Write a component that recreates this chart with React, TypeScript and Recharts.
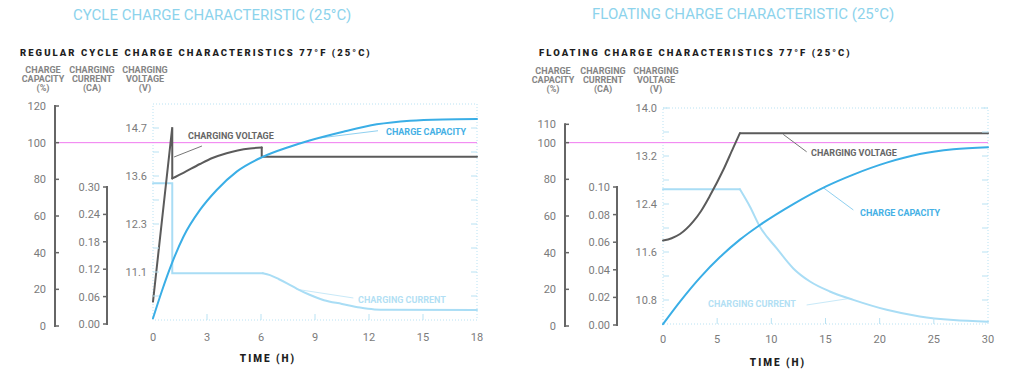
import { LineChart, Line, XAxis, YAxis, ReferenceLine, ReferenceArea } from 'recharts';

type Pt = [number, number];
// a series is drawn as pieces: straight runs (steps, jumps) and smooth curves
type Piece = { curve: 'linear' | 'monotone'; pts: Pt[] };

// ---- cycle charge (left panel) ----
const cycleHourTicks = [0, 3, 6, 9, 12, 15, 18];
const cycleCapacityTicks = [0, 20, 40, 60, 80, 100, 120];
const cycleCurrentTicks = [0, 0.06, 0.12, 0.18, 0.24, 0.3];
const cycleVoltageTicks = [10.5, 11.1, 11.7, 12.3, 12.9, 13.5, 14.1, 14.7];
const cycleVoltageLabels: Record<string, string> = { '11.1': '11.1', '12.3': '12.3', '13.5': '13.6', '14.7': '14.7' };

const cycleVoltage: Piece[] = [
  { curve: 'linear', pts: [[0, 10.36], [1.07, 14.72], [1.07, 13.44]] },
  { curve: 'monotone', pts: [[1.07, 13.44], [1.69, 13.58], [2.61, 13.8], [3.3, 13.95], [4.09, 14.07], [4.7, 14.14], [5.39, 14.19], [6.04, 14.21]] },
  { curve: 'linear', pts: [[6.04, 14.21], [6.04, 13.98], [18, 13.98]] },
];
const cycleCapacity: Piece[] = [
  { curve: 'monotone', pts: [[0, 4.2], [0.48, 18.7], [1.07, 34.7], [1.69, 48.7], [2.61, 63.3], [3.54, 74.2], [4.65, 84.2],
    [6.04, 92], [7.6, 97.8], [8.7, 101.2], [10.57, 106], [12.43, 110], [14.28, 112], [16.1, 112.7], [18, 112.9]] },
];
const cycleCurrent: Piece[] = [
  { curve: 'linear', pts: [[0, 0.308], [1.07, 0.308], [1.07, 0.111], [6.1, 0.111]] },
  { curve: 'monotone', pts: [[6.1, 0.111], [6.5, 0.107], [7, 0.098], [7.5, 0.088], [8, 0.077], [8.7, 0.064], [9.5, 0.052],
    [10.5, 0.044], [11.5, 0.036], [12.3, 0.032], [13, 0.031], [18, 0.0307]] },
];

// ---- floating charge (right panel) ----
const floatHourTicks = [0, 5, 10, 15, 20, 25, 30];
const floatCapacityTicks = [0, 20, 40, 60, 80, 100, 110];
const floatCurrentTicks = [0, 0.02, 0.04, 0.06, 0.08, 0.1];
const floatVoltageTicks = [10.8, 11.2, 11.6, 12.0, 12.4, 12.8, 13.2, 13.6, 14.0];
const floatVoltageLabels: Record<string, string> = { '10.8': '10.8', '11.6': '11.6', '12.4': '12.4', '13.2': '13.2', '14': '14.0' };

const floatVoltage: Piece[] = [
  { curve: 'monotone', pts: [[0, 11.79], [0.8, 11.83], [1.57, 11.9], [2.8, 12.11], [3.5, 12.28], [4.34, 12.54],
    [5.57, 12.97], [6.49, 13.34], [7.1, 13.58]] },
  { curve: 'linear', pts: [[7.1, 13.58], [30, 13.58]] },
];
const floatCapacity: Piece[] = [
  { curve: 'monotone', pts: [[0, 1], [1.57, 13.3], [3.42, 26.4], [5.26, 37.6], [7.1, 47.1], [8.95, 55.1], [12.03, 66.5],
    [15.1, 76.3], [17.57, 82.6], [20.65, 89.1], [23.7, 93.8], [26.8, 96.4], [30, 97.5]] },
];
const floatCurrent: Piece[] = [
  { curve: 'linear', pts: [[0, 0.0983], [7.1, 0.0983]] },
  { curve: 'monotone', pts: [[7.1, 0.0983], [8.03, 0.0857], [8.95, 0.0712], [10.5, 0.0555], [12.03, 0.041],
    [13.57, 0.0315], [15.4, 0.0243], [17.57, 0.0182], [20.65, 0.011], [23.7, 0.0062], [26.8, 0.0036], [30, 0.0024]] },
];

const DARK = '#5b5b5b';
const BLUE = '#3aaee6';
const LIGHT = '#a9ddf5';
const MAGENTA = '#f07af0';
const GRID = '#b9e2f3';
const TICK_TEXT = '#7b7b7b';
const FONT = 'Roboto, "Open Sans", sans-serif';

const toRows = (pts: Pt[]) => pts.map(([t, v]) => ({ t, v }));

interface PanelProps {
  maxHour: number;
  hourTicks: number[];
  plotTop: number;
  marginRight: number;
  capDomain: [number, number];
  capTicks: number[];
  capPx: number;
  curDomain: [number, number];
  curTicks: number[];
  curPx: number;
  voltDomain: [number, number];
  voltBox: [number, number];
  voltTicks: number[];
  voltLabels: Record<string, string>;
  capX: number;
  curX: number;
  plotLeft: number;
  plotRight: number;
  boxBottom: number;
  hourLabelY: number;
  voltage: Piece[];
  capacity: Piece[];
  current: Piece[];
  magentaFrom: number;
  leaders: { axis: string; from: Pt; to: Pt; color: string }[];
}

function Panel(p: PanelProps) {
  const capTick = (props: any) => {
    const { y, payload } = props;
    const i = p.capTicks.indexOf(payload.value);
    const seg = i > 0 ? (p.capTicks[i] - p.capTicks[i - 1]) * p.capPx : 0;
    return (
      <g>
        {seg > 0 && <line x1={p.capX} x2={p.capX} y1={y - 1} y2={y + seg + 1} stroke="#666" strokeWidth={2} />}
        <line x1={p.capX} x2={p.capX + 4} y1={y} y2={y} stroke="#666" strokeWidth={1.5} />
        <text x={p.capX - 9} y={y} dy={4} textAnchor="end" fontSize={11} fill={TICK_TEXT} fontFamily={FONT}>
          {payload.value}
        </text>
      </g>
    );
  };
  const curTick = (props: any) => {
    const { y, payload } = props;
    const i = p.curTicks.indexOf(payload.value);
    const seg = i > 0 ? (p.curTicks[i] - p.curTicks[i - 1]) * p.curPx : 0;
    return (
      <g>
        {seg > 0 && <line x1={p.curX} x2={p.curX} y1={y - 1} y2={y + seg + 1} stroke="#666" strokeWidth={2} />}
        <line x1={p.curX - 4} x2={p.curX} y1={y} y2={y} stroke="#666" strokeWidth={1.5} />
        <text x={p.curX - 7} y={y} dy={4} textAnchor="end" fontSize={11} fill={TICK_TEXT} fontFamily={FONT}>
          {Number(payload.value).toFixed(2)}
        </text>
      </g>
    );
  };
  const voltTick = (props: any) => {
    const { y, payload } = props;
    const label = p.voltLabels[String(payload.value)];
    return (
      <g>
        <line x1={p.plotLeft} x2={p.plotLeft + 6} y1={y} y2={y} stroke={GRID} strokeWidth={1} />
        <line x1={p.plotRight - 6} x2={p.plotRight} y1={y} y2={y} stroke={GRID} strokeWidth={1} />
        {label && (
          <text x={p.plotLeft - 6} y={y} dy={4} textAnchor="end" fontSize={11} fill={TICK_TEXT} fontFamily={FONT}>
            {label}
          </text>
        )}
      </g>
    );
  };
  const hourTick = (props: any) => {
    const { x, payload } = props;
    const inner = payload.value > 0 && payload.value < p.maxHour;
    return (
      <g>
        {inner && <line x1={x} x2={x} y1={p.boxBottom - 6} y2={p.boxBottom} stroke={GRID} strokeWidth={1} />}
        <text x={x} y={p.hourLabelY} dy={4} textAnchor="middle" fontSize={11} fill={TICK_TEXT} fontFamily={FONT}>
          {payload.value}
        </text>
      </g>
    );
  };

  const pieces = (series: Piece[], axis: string, color: string, name: string) =>
    series.map((pc, i) => (
      <Line key={`${name}${i}`} yAxisId={axis} data={toRows(pc.pts)} dataKey="v" type={pc.curve} stroke={color}
        strokeWidth={2} dot={false} isAnimationActive={false} strokeLinecap="round" />
    ));

  return (
    <LineChart width={512} height={381} margin={{ top: p.plotTop, right: p.marginRight, bottom: 25, left: 0 }}>
      <XAxis dataKey="t" type="number" domain={[0, p.maxHour]} ticks={p.hourTicks} interval={0}
        height={30} axisLine={false} tickLine={false} tickSize={0} tick={hourTick} allowDuplicatedCategory={false} />
      <YAxis yAxisId="volt" type="number" domain={p.voltDomain} ticks={p.voltTicks} interval={0} width={46}
        axisLine={false} tickLine={false} tickSize={0} tick={voltTick} allowDataOverflow />
      <YAxis yAxisId="cur" type="number" domain={p.curDomain} ticks={p.curTicks} interval={0}
        width={p.curX - p.capX} axisLine={false} tickLine={false} tickSize={0} tick={curTick} allowDataOverflow />
      <YAxis yAxisId="cap" type="number" domain={p.capDomain} ticks={p.capTicks} interval={0}
        width={p.capX} axisLine={false} tickLine={false} tickSize={0} tick={capTick} allowDataOverflow />

      <ReferenceArea yAxisId="volt" x1={0} x2={p.maxHour} y1={p.voltBox[0]} y2={p.voltBox[1]}
        fill="none" stroke={GRID} strokeDasharray="1 2" ifOverflow="visible" />
      <ReferenceLine yAxisId="cap" segment={[{ x: p.magentaFrom, y: 100 }, { x: p.maxHour, y: 100 }]}
        stroke={MAGENTA} strokeWidth={1} ifOverflow="visible" />
      {p.leaders.map((l, i) => (
        <ReferenceLine key={i} yAxisId={l.axis} segment={[{ x: l.from[0], y: l.from[1] }, { x: l.to[0], y: l.to[1] }]}
          stroke={l.color} strokeWidth={1} ifOverflow="visible" />
      ))}

      {pieces(p.current, 'cur', LIGHT, 'cur')}
      {pieces(p.voltage, 'volt', DARK, 'volt')}
      {pieces(p.capacity, 'cap', BLUE, 'cap')}
    </LineChart>
  );
}

function Txt({ x, y, children, color, size, weight = 700, spacing = 0, align = 'left', w = 0 }: any) {
  const style: any = {
    position: 'absolute', top: y - size * 0.6, lineHeight: `${size * 1.2}px`, fontSize: size, fontWeight: weight,
    color, letterSpacing: spacing, whiteSpace: 'nowrap', fontFamily: FONT,
  };
  if (align === 'center') {
    style.left = x - w / 2;
    style.width = w;
    style.textAlign = 'center';
  } else {
    style.left = x;
  }
  return <div style={style}>{children}</div>;
}

function AxisHeader({ x, y, lines }: { x: number; y: number; lines: string[] }) {
  return (
    <>
      {lines.map((s, i) => (
        <Txt key={i} x={x} y={y + i * 9} size={9} weight={700} color="#858585" align="center" w={70}>{s}</Txt>
      ))}
    </>
  );
}

export default function App() {
  return (
    <div style={{ position: 'absolute', left: 0, top: 0, width: 1024, height: 381, background: '#fff', overflow: 'hidden' }}>
      <div style={{ position: 'absolute', left: 0, top: 0 }}>
        <Panel
          maxHour={18} hourTicks={cycleHourTicks} plotTop={104} marginRight={35}
          capDomain={[0, 121.09]} capTicks={cycleCapacityTicks} capPx={1.8333}
          curDomain={[-0.00438, 0.48175]} curTicks={cycleCurrentTicks} curPx={456.67}
          voltDomain={[9.75, 15.3]} voltBox={[9.9, 15.3]} voltTicks={cycleVoltageTicks} voltLabels={cycleVoltageLabels}
          capX={55} curX={107} plotLeft={153} plotRight={477} boxBottom={320} hourLabelY={337}
          voltage={cycleVoltage} capacity={cycleCapacity} current={cycleCurrent} magentaFrom={-5.44}
          leaders={[
            { axis: 'volt', from: [1.17, 13.975], to: [2.72, 14.25], color: '#777' },
            { axis: 'cap', from: [9.3, 102.6], to: [12.5, 106.5], color: '#8fd0f0' },
            { axis: 'cur', from: [7.98, 0.076], to: [11.13, 0.057], color: '#c8e9f8' },
          ]}
        />
      </div>
      <div style={{ position: 'absolute', left: 512, top: 0 }}>
        <Panel
          maxHour={30} hourTicks={floatHourTicks} plotTop={108} marginRight={36}
          capDomain={[0, 118.9]} capTicks={floatCapacityTicks} capPx={1.8333}
          curDomain={[-0.000725, 0.15725]} curTicks={floatCurrentTicks} curPx={1380}
          voltDomain={[10.3667, 14.0]} voltBox={[10.4, 14.0]} voltTicks={floatVoltageTicks} voltLabels={floatVoltageLabels}
          capX={53} curX={105} plotLeft={151} plotRight={476} boxBottom={324} hourLabelY={339}
          voltage={floatVoltage} capacity={floatCapacity} current={floatCurrent} magentaFrom={-9.05}
          leaders={[
            { axis: 'volt', from: [11.1, 13.56], to: [13.26, 13.27], color: '#777' },
            { axis: 'cap', from: [14.8, 75.4], to: [17.57, 63.3], color: '#8fd0f0' },
            { axis: 'cur', from: [13.26, 0.0145], to: [17.26, 0.0193], color: '#c8e9f8' },
          ]}
        />
      </div>

      <Txt x={73} y={15} size={15} weight={400} color="#8dd3ec">CYCLE CHARGE CHARACTERISTIC (25°C)</Txt>
      <Txt x={592} y={14} size={15} weight={400} color="#8dd3ec">FLOATING CHARGE CHARACTERISTIC (25°C)</Txt>

      <Txt x={20} y={53} size={9.5} weight={900} color="#1e1e1e" spacing={2.05}>REGULAR CYCLE CHARGE CHARACTERISTICS 77°F (25°C)</Txt>
      <Txt x={539} y={53} size={9.5} weight={900} color="#1e1e1e" spacing={2.05}>FLOATING CHARGE CHARACTERISTICS 77°F (25°C)</Txt>

      <AxisHeader x={43} y={70} lines={['CHARGE', 'CAPACITY', '(%)']} />
      <AxisHeader x={92} y={70} lines={['CHARGING', 'CURRENT', '(CA)']} />
      <AxisHeader x={145} y={70} lines={['CHARGING', 'VOLTAGE', '(V)']} />
      <AxisHeader x={553} y={71} lines={['CHARGE', 'CAPACITY', '(%)']} />
      <AxisHeader x={603} y={71} lines={['CHARGING', 'CURRENT', '(CA)']} />
      <AxisHeader x={656} y={71} lines={['CHARGING', 'VOLTAGE', '(V)']} />

      <Txt x={268} y={359} size={10} weight={900} color="#1e1e1e" spacing={2} align="center" w={100}>TIME (H)</Txt>
      <Txt x={778} y={363} size={10} weight={900} color="#1e1e1e" spacing={2} align="center" w={100}>TIME (H)</Txt>

      <Txt x={188} y={136} size={9} color="#666">CHARGING VOLTAGE</Txt>
      <Txt x={386} y={132} size={9} color="#45b0e5">CHARGE CAPACITY</Txt>
      <Txt x={358} y={300} size={9} color="#b3dff4">CHARGING CURRENT</Txt>
      <Txt x={811} y={153} size={9} color="#666">CHARGING VOLTAGE</Txt>
      <Txt x={860} y={213} size={9} color="#45b0e5">CHARGE CAPACITY</Txt>
      <Txt x={708} y={304} size={9} color="#b3dff4">CHARGING CURRENT</Txt>
    </div>
  );
}
